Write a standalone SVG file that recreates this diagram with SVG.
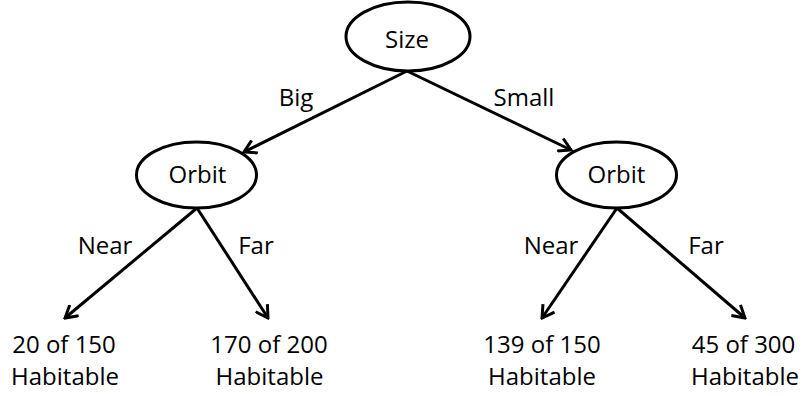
<svg xmlns="http://www.w3.org/2000/svg" width="803" height="396" viewBox="0 0 803 396">
<style>
text{font-family:"Open Sans","Liberation Sans",sans-serif;font-size:24px;fill:#000;text-anchor:middle}
.node ellipse{fill:#fff;stroke:#000;stroke-width:3}
.edge{stroke:#000;stroke-width:3;fill:none;marker-end:url(#arr)}
</style>
<defs>
<marker id="arr" viewBox="0 0 16 16" refX="14" refY="8" markerWidth="16" markerHeight="16" markerUnits="userSpaceOnUse" orient="auto">
<path d="M2,1 L14,8 L2,15" fill="none" stroke="#000" stroke-width="3"/>
</marker>
</defs>
<g id="connectors">
<line class="edge" x1="407" y1="71" x2="244" y2="152"/>
<line class="edge" x1="407" y1="71" x2="571" y2="150"/>
<line class="edge" x1="197" y1="208" x2="65" y2="318"/>
<line class="edge" x1="197" y1="208" x2="268" y2="318"/>
<line class="edge" x1="617" y1="208" x2="542" y2="318"/>
<line class="edge" x1="617" y1="208" x2="745" y2="318"/>
<text x="296" y="106">Big</text>
<text x="524" y="106">Small</text>
<text x="105" y="254">Near</text>
<text x="256" y="254">Far</text>
<text x="551" y="254">Near</text>
<text x="706" y="254">Far</text>
</g>
<g id="size" class="node"><ellipse cx="408" cy="36.5" rx="62" ry="34.5"/><text x="407" y="48">Size</text></g>
<g id="orbit-left" class="node"><ellipse cx="196.5" cy="175" rx="60" ry="33"/><text x="197.5" y="183">Orbit</text></g>
<g id="orbit-right" class="node"><ellipse cx="616.5" cy="175" rx="60" ry="33"/><text x="616.5" y="183">Orbit</text></g>
<g id="leaf1"><text x="64" y="353">20 of 150</text><text x="65" y="385">Habitable</text></g>
<g id="leaf2"><text x="269" y="353">170 of 200</text><text x="269.5" y="385">Habitable</text></g>
<g id="leaf3"><text x="542" y="353">139 of 150</text><text x="542" y="385">Habitable</text></g>
<g id="leaf4"><text x="743.5" y="353">45 of 300</text><text x="745" y="385">Habitable</text></g>
</svg>
